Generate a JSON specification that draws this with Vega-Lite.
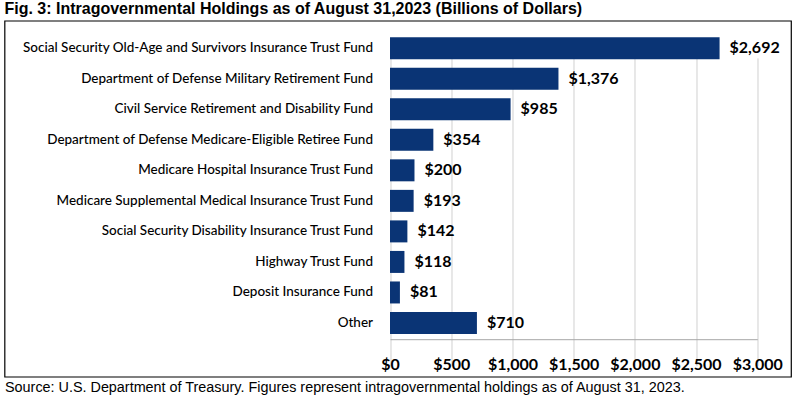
{
  "$schema": "https://vega.github.io/schema/vega-lite/v6.json",
  "autosize": "none",
  "padding": {"left": 4.5, "top": 20.7, "right": 10, "bottom": 20},
  "width": 786.5,
  "height": 356,
  "background": "white",
  "title": {
    "text": "Fig. 3: Intragovernmental Holdings as of August 31,2023 (Billions of Dollars)",
    "anchor": "start",
    "font": "Liberation Sans",
    "fontSize": 16,
    "fontWeight": "bold",
    "color": "black",
    "offset": 4
  },
  "config": {
    "view": {"stroke": "black", "strokeWidth": 1.2}
  },
  "data": {
    "values": [
      {"name": "Social Security Old-Age and Survivors Insurance Trust Fund", "value": 2692},
      {"name": "Department of Defense Military  Retirement Fund", "value": 1376},
      {"name": "Civil Service Retirement and Disability Fund", "value": 985},
      {"name": "Department of Defense Medicare-Eligible Retiree Fund", "value": 354},
      {"name": "Medicare Hospital Insurance Trust Fund", "value": 200},
      {"name": "Medicare Supplemental Medical Insurance Trust Fund", "value": 193},
      {"name": "Social Security Disability Insurance Trust Fund", "value": 142},
      {"name": "Highway Trust Fund", "value": 118},
      {"name": "Deposit Insurance Fund", "value": 81},
      {"name": "Other", "value": 710}
    ]
  },
  "encoding": {
    "y": {
      "field": "name",
      "type": "nominal",
      "sort": null,
      "scale": {"range": [11, 318.8], "paddingInner": 0.28, "paddingOuter": 0.18},
      "axis": {
        "title": null,
        "orient": "left",
        "offset": -385.5,
        "labelPadding": 17.5,
        "ticks": false,
        "domain": false,
        "grid": false,
        "labelLimit": 0,
        "labelFont": "Lato",
        "labelFontSize": 13.5,
        "labelFontWeight": 500,
        "labelColor": "black"
      }
    },
    "x": {
      "field": "value",
      "type": "quantitative",
      "scale": {"domain": [0, 3000], "range": [385.5, 752.8], "nice": false},
      "axis": {
        "orient": "bottom",
        "offset": -37.5,
        "values": [0, 500, 1000, 1500, 2000, 2500, 3000],
        "format": "$,.0f",
        "ticks": false,
        "domain": true,
        "domainColor": "#a6a6a6",
        "grid": true,
        "gridColor": "#d0d0d0",
        "labelFont": "Lato",
        "labelFontSize": 16,
        "labelFontWeight": "bold",
        "labelColor": "black",
        "labelPadding": 17,
        "labelFlush": false,
        "title": "Source: U.S. Department of Treasury. Figures represent intragovernmental holdings as of August 31, 2023.",
        "titleX": 0,
        "titleY": 52,
        "titleAlign": "left",
        "titleAnchor": null,
        "titleBaseline": "alphabetic",
        "titleFont": "Liberation Sans",
        "titleFontSize": 14.4,
        "titleFontWeight": "normal",
        "titleColor": "black"
      }
    }
  },
  "layer": [
    {"mark": {"type": "bar", "color": "#0a3475"}},
    {
      "mark": {"type": "text", "align": "left", "baseline": "middle", "dx": 10, "font": "Lato", "fontSize": 16, "fontWeight": "bold", "color": "black"},
      "encoding": {"text": {"field": "value", "type": "quantitative", "format": "$,.0f"}}
    }
  ]
}
